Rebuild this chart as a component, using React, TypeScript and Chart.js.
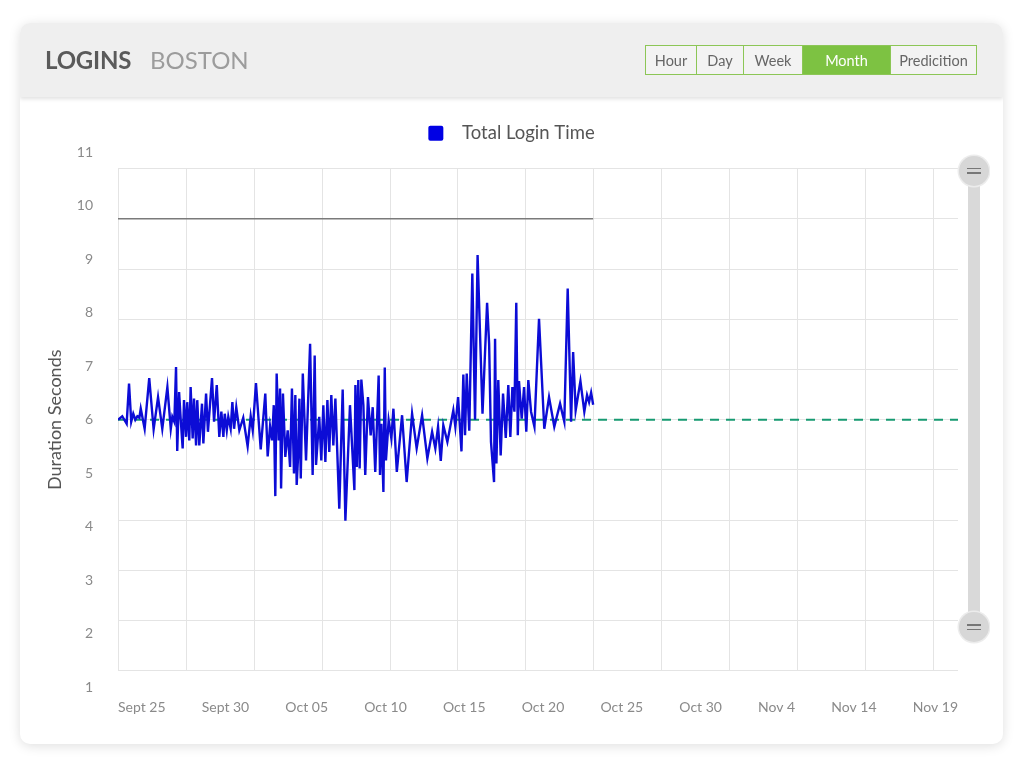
import React, { useEffect, useRef } from 'react';
import { Chart, registerables } from 'chart.js';

Chart.register(...registerables);

const FONT = 'Lato, "Noto Sans", sans-serif';

// ---- data ----
const DATE_LABELS = ['Sept 25', 'Sept 30', 'Oct 05', 'Oct 10', 'Oct 15', 'Oct 20', 'Oct 25', 'Oct 30', 'Nov 4', 'Nov 14', 'Nov 19'];
const Y_TICKS = [1, 2, 3, 4, 5, 6, 7, 8, 9, 10, 11];

// time of each login, in days from the start of the window
const LOGIN_DAYS = [
  0.00, 0.25, 0.51, 0.65, 0.78, 0.90, 1.02, 1.14, 1.26, 1.34,
  1.57, 1.84, 2.10, 2.36, 2.61, 2.91, 3.11, 3.20, 3.32, 3.42,
  3.49, 3.60, 3.70, 3.81, 3.89, 4.01, 4.08, 4.20, 4.28, 4.40,
  4.48, 4.60, 4.67, 4.79, 4.95, 5.03, 5.19, 5.30, 5.54, 5.66,
  5.82, 5.97, 6.09, 6.21, 6.29, 6.41, 6.50, 6.64, 6.74, 6.84,
  6.97, 7.15, 7.38, 7.64, 7.82, 7.94, 8.13, 8.41, 8.68, 8.82,
  8.96, 9.08, 9.18, 9.27, 9.35, 9.47, 9.55, 9.61, 9.72, 9.86,
  10.00, 10.14, 10.25, 10.37, 10.45, 10.53, 10.61, 10.69, 10.77, 10.89,
  11.08, 11.32, 11.47, 11.59, 11.67, 11.86, 11.98, 12.10, 12.22, 12.34,
  12.45, 12.57, 12.69, 12.81, 13.04, 13.24, 13.40, 13.67, 13.93, 13.99,
  14.07, 14.16, 14.24, 14.34, 14.46, 14.57, 14.73, 14.89, 15.01, 15.16,
  15.36, 15.44, 15.52, 15.64, 15.72, 15.79, 15.95, 16.11, 16.23, 16.43,
  16.74, 17.01, 17.33, 17.60, 17.92, 18.23, 18.51, 18.70, 18.86, 19.02,
  19.17, 19.41, 19.76, 19.88, 20.04, 20.24, 20.35, 20.45, 20.55, 20.70,
  20.88, 21.04, 21.19, 21.48, 21.75, 21.87, 21.98, 22.16, 22.22, 22.30,
  22.41, 22.55, 22.69, 22.85, 23.00, 23.12, 23.24, 23.36, 23.47, 23.56,
  23.63, 23.79, 23.93, 24.06, 24.18, 24.34, 24.54, 24.81, 25.12, 25.40,
  25.71, 26.05, 26.30, 26.50, 26.70, 26.82, 26.97, 27.25, 27.48, 27.64,
  27.76, 27.88, 28.00,
];

// login duration in seconds
const LOGIN_SECONDS = [
  6.00, 6.07, 5.92, 6.72, 5.96, 6.12, 6.00, 6.07, 6.04, 6.22,
  5.82, 6.83, 5.81, 6.45, 5.82, 6.65, 5.82, 6.06, 5.96, 7.05,
  5.38, 6.55, 5.99, 5.43, 6.39, 5.66, 6.35, 5.59, 6.65, 5.63,
  6.42, 5.49, 6.39, 5.49, 6.32, 5.53, 6.52, 5.76, 6.83, 5.96,
  6.69, 5.66, 6.16, 5.66, 6.12, 5.79, 6.06, 5.82, 6.35, 5.82,
  6.25, 5.79, 6.04, 5.47, 6.07, 5.79, 6.73, 5.41, 6.52, 5.27,
  5.87, 5.59, 6.29, 4.48, 6.92, 5.59, 6.62, 4.63, 6.52, 5.26,
  5.79, 5.06, 6.62, 4.93, 6.49, 4.70, 5.26, 6.42, 4.83, 6.92,
  5.19, 7.51, 4.90, 7.28, 5.10, 6.06, 5.19, 6.29, 5.16, 6.39,
  5.36, 6.49, 5.49, 6.42, 4.23, 6.60, 3.99, 6.29, 4.60, 6.69,
  5.06, 6.79, 5.03, 6.80, 6.29, 4.90, 6.45, 5.69, 6.25, 4.96,
  6.88, 4.90, 5.92, 4.56, 7.04, 5.19, 5.99, 5.63, 6.22, 4.96,
  6.09, 4.76, 6.12, 5.43, 6.09, 5.23, 5.76, 5.43, 5.86, 5.18,
  5.89, 5.56, 6.19, 5.86, 6.45, 5.37, 6.90, 5.69, 6.92, 5.78,
  8.91, 6.00, 9.28, 6.12, 8.33, 7.51, 5.56, 4.76, 7.61, 5.13,
  6.79, 5.29, 6.52, 5.64, 6.69, 5.66, 6.65, 6.16, 8.33, 5.69,
  6.77, 6.02, 6.65, 5.76, 6.79, 6.16, 5.86, 8.01, 5.82, 6.45,
  5.86, 6.32, 5.96, 8.61, 5.96, 7.35, 6.19, 6.77, 6.16, 6.49,
  6.35, 6.54, 6.30,
];

const LIMIT_DAYS = [0, 28];
const LIMIT_SECONDS = [10, 10];
const BASELINE_DAYS = [0, 49.5];
const BASELINE_SECONDS = [6, 6];

const RANGE_BUTTONS = ['Hour', 'Day', 'Week', 'Month', 'Predicition'];
const ACTIVE_RANGE = 'Month';

// ---- axis configuration ----
const X_MAX_DAYS = 49.5;
const GRID_STEP_DAYS = 4;
const Y_GRID_INSET = 0.32;

const TICK_COLOR = '#8a8a8a';
const GRID_COLOR = '#e4e4e4';
const TEXT_COLOR = '#555555';
const X_TICK_FONT_SIZE = 14;

const verticalGrid = {
  id: 'verticalGrid',
  beforeDatasetsDraw(chart: any) {
    const xs = chart.scales.x;
    const ys = chart.scales.y;
    const ctx = chart.ctx;
    const top = ys.getPixelForValue(Y_TICKS[Y_TICKS.length - 1]);
    const bottom = ys.getPixelForValue(Y_TICKS[0]);
    ctx.save();
    ctx.strokeStyle = GRID_COLOR;
    ctx.lineWidth = 1;
    for (let d = 0; d <= xs.max; d += GRID_STEP_DAYS) {
      const px = Math.round(xs.getPixelForValue(d)) + 0.5;
      ctx.beginPath();
      ctx.moveTo(px, Math.round(top));
      ctx.lineTo(px, Math.round(bottom));
      ctx.stroke();
    }
    ctx.restore();
  },
};

// spread the date labels edge to edge with equal gaps between them
const justifyDateLabels = {
  id: 'justifyDateLabels',
  afterLayout(chart: any) {
    const scale = chart.scales.xl;
    if (!scale || !scale.ticks || !scale.ticks.length) return;
    const ctx = chart.ctx;
    ctx.save();
    ctx.font = `normal ${X_TICK_FONT_SIZE}px ${FONT}`;
    const widths = DATE_LABELS.map((l) => ctx.measureText(l).width);
    ctx.restore();
    const total = widths.reduce((a, b) => a + b, 0);
    const gap = (scale.width - total) / (DATE_LABELS.length - 1);
    let cursor = 0;
    scale.ticks.forEach((t: any, i: number) => {
      t.value = (cursor + widths[i] / 2) / scale.width;
      cursor += widths[i] + gap;
    });
    scale._labelItems = null;
  },
};

function LoginChart() {
  const ref = useRef<HTMLCanvasElement | null>(null);

  useEffect(() => {
    if (!ref.current) return;
    Chart.defaults.font.family = FONT;
    const chart = new Chart(ref.current, {
      type: 'line',
      data: {
        datasets: [
          {
            label: 'Total Login Time',
            data: LOGIN_DAYS.map((d, i) => ({ x: d, y: LOGIN_SECONDS[i] })),
            borderColor: '#0c0cd6',
            backgroundColor: '#0000e4',
            borderWidth: 2.4,
            pointRadius: 0,
            tension: 0,
            xAxisID: 'x',
            yAxisID: 'y',
          },
          {
            label: 'Upper Limit',
            data: LIMIT_DAYS.map((d, i) => ({ x: d, y: LIMIT_SECONDS[i] })),
            borderColor: '#7a7a7a',
            backgroundColor: '#7a7a7a',
            borderWidth: 1.5,
            pointRadius: 0,
            xAxisID: 'x',
            yAxisID: 'y',
          },
          {
            label: 'Baseline',
            data: BASELINE_DAYS.map((d, i) => ({ x: d, y: BASELINE_SECONDS[i] })),
            borderColor: '#179a72',
            backgroundColor: '#179a72',
            borderWidth: 2,
            borderDash: [9, 7],
            pointRadius: 0,
            xAxisID: 'x',
            yAxisID: 'y',
          },
        ],
      },
      options: {
        animation: false,
        responsive: false,
        events: [],
        layout: { padding: { top: 17, right: 0, bottom: 17, left: 0 } },
        plugins: {
          tooltip: { enabled: false },
          legend: {
            display: true,
            position: 'top',
            labels: {
              boxWidth: 15,
              boxHeight: 15,
              useBorderRadius: true,
              borderRadius: 2,
              color: TEXT_COLOR,
              font: { size: 18.5, family: FONT },
              padding: 10,
              generateLabels: (c: any) =>
                Chart.defaults.plugins.legend.labels
                  .generateLabels(c)
                  .filter((l: any) => l.datasetIndex === 0)
                  .map((l: any) => ({ ...l, text: '  ' + l.text, lineWidth: 0 })),
            },
          },
        },
        scales: {
          x: { type: 'linear', min: 0, max: X_MAX_DAYS, display: false },
          xl: {
            type: 'linear',
            position: 'bottom',
            min: 0,
            max: 1,
            grid: { display: false },
            border: { display: false },
            afterBuildTicks: (s: any) => {
              s.ticks = DATE_LABELS.map((_, i) => ({ value: i / (DATE_LABELS.length - 1) }));
            },
            ticks: {
              autoSkip: false,
              maxRotation: 0,
              padding: 4,
              color: TICK_COLOR,
              font: { size: X_TICK_FONT_SIZE, family: FONT },
              callback: (_v: any, i: number) => DATE_LABELS[i],
            },
            afterFit: (s: any) => {
              s.height = 40;
            },
          },
          y: {
            type: 'linear',
            position: 'left',
            min: Y_TICKS[0] - Y_GRID_INSET,
            max: Y_TICKS[Y_TICKS.length - 1] + Y_GRID_INSET,
            grid: { color: GRID_COLOR, drawTicks: false, lineWidth: 1 },
            border: { display: false },
            ticks: { display: false },
            afterBuildTicks: (s: any) => {
              s.ticks = Y_TICKS.map((v) => ({ value: v }));
            },
          },
          yl: {
            type: 'linear',
            position: 'left',
            min: Y_TICKS[0],
            max: Y_TICKS[Y_TICKS.length - 1],
            grid: { display: false, drawTicks: false },
            border: { display: false },
            afterBuildTicks: (s: any) => {
              s.ticks = Y_TICKS.map((v) => ({ value: v }));
            },
            ticks: {
              padding: 25,
              color: TICK_COLOR,
              font: { size: 14, family: FONT },
            },
            title: {
              display: true,
              text: 'Duration Seconds',
              color: TEXT_COLOR,
              font: { size: 18, family: FONT },
              padding: { top: 24, bottom: 0 },
            },
            afterFit: (s: any) => {
              s.width = 98;
            },
          },
          // empty right-hand gutter (room for the range slider)
          yr: {
            type: 'linear',
            position: 'right',
            min: 0,
            max: 1,
            grid: { display: false, drawTicks: false },
            border: { display: false },
            ticks: { display: false },
            afterFit: (s: any) => {
              s.width = 45;
            },
          },
        },
      } as any,
      plugins: [verticalGrid, justifyDateLabels],
    });
    return () => chart.destroy();
  }, []);

  return <canvas ref={ref} width={983} height={647} style={{ display: 'block' }} />;
}

const BUTTON_WIDTHS: Record<string, number> = { Hour: 52, Day: 48, Week: 60, Month: 89, Predicition: 87 };

function Handle({ top }: { top: number }) {
  return (
    <div
      style={{
        position: 'absolute',
        left: 938.5,
        top,
        width: 30,
        height: 30,
        borderRadius: '50%',
        background: '#d7d7d7',
        boxShadow: '0 0 0 1.5px #ececec',
      }}
    >
      <div style={{ position: 'absolute', left: 8, top: 12, width: 14, height: 1.5, background: '#777' }} />
      <div style={{ position: 'absolute', left: 8, top: 16.5, width: 14, height: 1.5, background: '#777' }} />
    </div>
  );
}

export default function App() {
  return (
    <div
      style={{
        position: 'absolute',
        left: 0,
        top: 0,
        width: 1024,
        height: 768,
        background: '#ffffff',
        fontFamily: FONT,
        overflow: 'hidden',
      }}
    >
      <div
        style={{
          position: 'absolute',
          left: 20,
          top: 23,
          width: 983,
          height: 721,
          borderRadius: 10,
          background: '#ffffff',
          boxShadow: '0 2px 12px rgba(0,0,0,0.13)',
          overflow: 'hidden',
        }}
      >
        <div style={{ position: 'absolute', left: 0, top: 74 }}>
          <LoginChart />
        </div>
        <div
          style={{
            position: 'absolute',
            left: 0,
            top: 0,
            width: 983,
            height: 74,
            background: '#efefef',
            boxShadow: '0 2px 4px rgba(0,0,0,0.12)',
            zIndex: 2,
          }}
        >
          <div
            style={{
              position: 'absolute',
              left: 25,
              top: 25,
              fontSize: 24,
              lineHeight: '24px',
              fontWeight: 700,
              color: '#5a5a5a',
              letterSpacing: -0.2,
            }}
          >
            LOGINS
          </div>
          <div
            style={{
              position: 'absolute',
              left: 130,
              top: 25,
              fontSize: 24,
              lineHeight: '24px',
              fontWeight: 400,
              color: '#9c9c9c',
            }}
          >
            BOSTON
          </div>
          <div style={{ position: 'absolute', left: 625, top: 22, display: 'flex', height: 30 }}>
            {RANGE_BUTTONS.map((b, i) => {
              const active = b === ACTIVE_RANGE;
              return (
                <div
                  key={b}
                  style={{
                    width: BUTTON_WIDTHS[b],
                    height: 30,
                    boxSizing: 'border-box',
                    border: '1px solid #8cc656',
                    marginLeft: i === 0 ? 0 : -1,
                    background: active ? '#7dc242' : '#f3f3f3',
                    color: active ? '#ffffff' : '#666',
                    fontSize: 14.5,
                    display: 'flex',
                    alignItems: 'center',
                    justifyContent: 'center',
                  }}
                >
                  {b}
                </div>
              );
            })}
          </div>
        </div>
        <div
          style={{
            position: 'absolute',
            left: 947.5,
            top: 147,
            width: 12,
            height: 457,
            background: '#d9d9d9',
          }}
        />
        <Handle top={132.5} />
        <Handle top={589} />
      </div>
    </div>
  );
}
